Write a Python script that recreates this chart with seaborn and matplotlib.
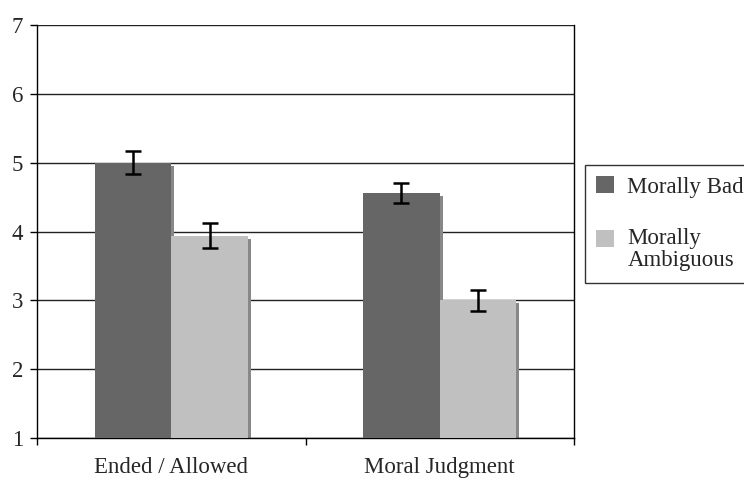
import matplotlib
matplotlib.use("Agg")
import matplotlib.pyplot as plt
import matplotlib.transforms as mtransforms
from matplotlib.patches import Rectangle
import seaborn as sns
import pandas as pd

categories = ["Ended / Allowed", "Moral Judgment"]
conditions = ["Morally Bad", "Morally\nAmbiguous"]
bad_means = [5.0, 4.56]
amb_means = [3.94, 3.0]
bad_err = [0.17, 0.15]
amb_err = [0.18, 0.15]
yticks = [1, 2, 3, 4, 5, 6, 7]

df = pd.DataFrame({
    "category": categories * 2,
    "condition": [conditions[0]] * 2 + [conditions[1]] * 2,
    "value": bad_means + amb_means,
    "err": bad_err + amb_err,
})

sns.set_style("white")
plt.rcParams["font.family"] = ["Liberation Serif", "DejaVu Serif"]

fig = plt.figure(figsize=(7.44, 4.79), dpi=100)
ax = fig.add_axes([37 / 744, 41 / 479, 537 / 744, 413 / 479])

palette = {conditions[0]: "#666666", conditions[1]: "#c0c0c0"}
sns.barplot(data=df, x="category", y="value", hue="condition", order=categories,
            hue_order=conditions, palette=palette, width=0.57, errorbar=None,
            saturation=1, ax=ax, zorder=3, linewidth=0, legend=True)

ax.set_ylim(1, 7)
ax.set_xlim(-0.5, 1.5)

# shadows and error bars
bars = [p for p in ax.patches if isinstance(p, Rectangle) and p.get_height() > 0]
shadow_tr = mtransforms.offset_copy(ax.transData, fig=fig, x=3, y=-3, units="dots")
errs = bad_err + amb_err
for p, e in zip(bars, errs):
    sh = Rectangle((p.get_x(), p.get_y()), p.get_width(), p.get_height(),
                   transform=shadow_tr, facecolor="#888888", edgecolor="none", zorder=2.5)
    ax.add_patch(sh)
    cx = p.get_x() + p.get_width() / 2
    ax.errorbar(cx, p.get_height(), yerr=e, fmt="none", ecolor="black",
                elinewidth=1.8, capsize=6, capthick=1.8, zorder=5)

# grid
ax.set_yticks(yticks)
for y in yticks:
    ax.axhline(y, color="#222222", lw=1.0, zorder=1)

ax.set_xticks([0, 1])
ax.set_xticklabels(categories, fontsize=16.5)
ax.tick_params(axis="x", length=0, pad=14)
# category boundary ticks
ax.set_xticks([-0.5, 0.5, 1.5], minor=True)
ax.tick_params(axis="x", which="minor", direction="out", length=5, width=1, color="black", bottom=True)
ax.tick_params(axis="y", direction="out", length=5, width=1, color="black", left=True,
               labelsize=16.5, pad=5)

for s in ["left", "bottom", "right"]:
    ax.spines[s].set_visible(True)
    ax.spines[s].set_color("black")
    ax.spines[s].set_linewidth(1.0)
ax.spines["top"].set_visible(False)
ax.set_xlabel("")
ax.set_ylabel("")

handles, labels = ax.get_legend_handles_labels()
ax.legend_.remove()
leg = fig.legend(handles, labels, loc="upper left", bbox_to_anchor=(585 / 744, 1 - 165 / 479),
                 frameon=True, fontsize=16.5, handlelength=0.75, handleheight=0.75,
                 handletextpad=0.6, labelspacing=1.3, borderpad=0.5, fancybox=False,
                 borderaxespad=0)
for t in leg.get_texts():
    t.set_linespacing(1.1)
# align the second swatch with the first line of its two-line label
h2 = leg.legend_handles[1]
h2.set_y(h2.get_y() + 8)
leg.get_frame().set_edgecolor("black")
leg.get_frame().set_linewidth(1.0)

fig.savefig("out.png", dpi=100)
